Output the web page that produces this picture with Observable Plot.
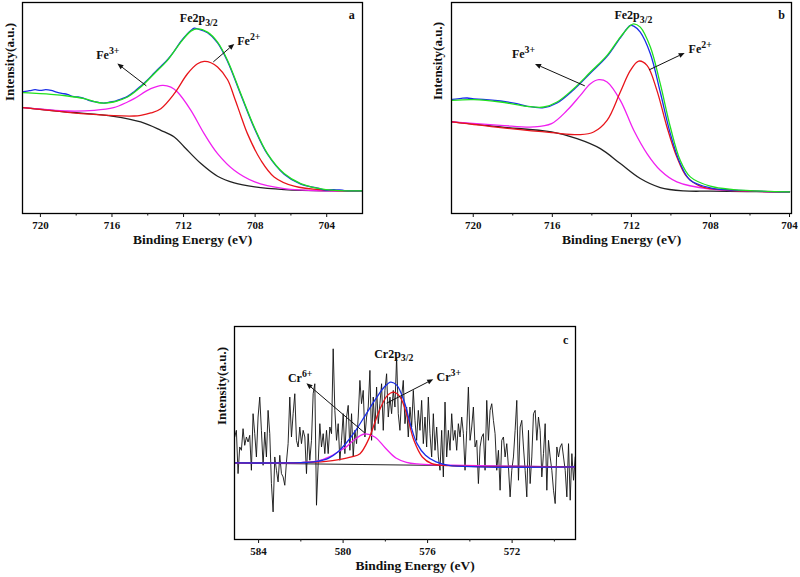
<!DOCTYPE html>
<html><head><meta charset="utf-8">
<script src="https://cdn.jsdelivr.net/npm/d3@7"></script>
<script src="https://cdn.jsdelivr.net/npm/@observablehq/plot@0.6"></script>
<style>
body{margin:0;background:#fff;width:800px;height:577px;overflow:hidden;position:relative}
.panel{position:absolute}
.panel svg, .panel svg text, .panel svg tspan{font-family:"Liberation Serif","Times New Roman",serif !important;}
</style></head><body>
<div id="pa" class="panel" style="left:0;top:0"></div>
<div id="pb" class="panel" style="left:400px;top:0"></div>
<div id="pc" class="panel" style="left:200px;top:290px"></div>
<script>
// ---------- Panel a : Fe2p3/2 ----------
const aBackground = [[720.94,316],[718.48,303],[715.91,290],[714.39,273],[713.27,248],[712.52,228],[711.96,198],[711.03,148],[710.10,110],[709.17,90],[708.02,78],[706.38,70],[704.05,66],[702.0,66]];
const aFe2 = [[720.94,316],[718.48,302],[715.91,292],[714.76,291],[714.39,293],[713.83,300],[713.27,313],[712.52,358],[711.78,418],[711.22,448],[710.85,455],[710.47,451],[710.10,438],[709.54,400],[709.17,348],[708.80,292],[708.43,238],[707.68,158],[706.94,108],[705.82,80],[704.05,68],[702.0,66]];
const aFe3 = [[720.94,316],[718.48,306],[716.99,308],[715.91,316],[715.13,333],[714.76,343],[713.83,373],[713.18,383],[712.71,378],[712.34,363],[711.59,308],[710.85,238],[710.10,178],[709.17,128],[708.02,93],[706.38,73],[704.05,66],[702.0,66]];
const aFit = [[720.94,361],[719.41,356],[718.48,351],[717.55,343],[716.62,330],[715.91,333],[715.13,348],[714.39,378],[713.64,418],[712.90,458],[712.15,513],[711.59,546],[711.22,553],[710.66,543],[710.10,513],[709.54,458],[708.80,358],[708.05,258],[707.31,178],[706.38,118],[705.45,88],[704.05,70],[702.0,66]];
const aRaw = [[720.94,364],[720.6,367],[720.3,370],[720.0,368],[719.7,370],[719.4,368],[719.1,363],[718.8,359],[718.5,356],[718.2,350],[717.9,348],[717.6,345],[717.3,338],[717.0,334],[716.7,331],[716.4,330],[716.1,333],[715.8,336],[715.5,342],[715.13,350],[714.76,364],[714.39,381],[714.0,400],[713.64,420],[713.27,440],[712.90,460],[712.52,486],[712.15,515],[711.78,538],[711.59,548],[711.4,555],[711.22,553],[710.66,541],[710.10,511],[709.54,455],[708.80,355],[708.05,255],[707.31,176],[706.38,116],[705.45,86],[704.5,74],[704.05,68],[703.6,70],[703.0,67],[702.0,66]];

// ---------- Panel b : Fe2p3/2 ----------
const bBackground = [[721.06,275],[718.62,260],[716.04,245],[714.75,225],[713.57,195],[712.56,150],[711.55,105],[710.54,78],[709.36,68],[708.01,67],[704.0,65]];
const bFe3 = [[721.06,275],[718.62,265],[716.94,260],[716.04,270],[715.25,310],[714.58,355],[714.07,390],[713.65,402],[713.23,395],[712.56,340],[711.88,250],[711.21,180],[710.54,130],[709.70,95],[708.01,73],[705.99,67],[704.0,65]];
const bFe2 = [[721.06,275],[718.62,258],[716.04,243],[714.58,237],[713.91,245],[713.23,280],[712.56,365],[712.05,430],[711.63,458],[711.21,445],[710.71,370],[710.20,260],[709.70,170],[709.19,110],[708.52,82],[708.01,75],[706.0,67],[704.0,65]];
const bFit = [[721.06,340],[719.97,342],[718.62,335],[717.27,322],[716.43,320],[715.76,335],[714.92,375],[714.07,425],[713.23,475],[712.56,530],[712.05,565],[711.88,570],[711.55,560],[711.04,500],[710.54,390],[710.03,260],[709.53,160],[709.02,110],[708.01,82],[706.84,72],[704.0,65]];
const bRaw = [[721.06,343],[720.6,346],[720.30,347],[719.97,344],[719.5,343],[718.62,338],[717.8,330],[717.27,322],[716.43,318],[715.76,332],[714.92,372],[714.07,422],[713.23,472],[712.56,528],[712.05,565],[711.88,563],[711.55,545],[711.04,480],[710.54,365],[710.03,240],[709.53,150],[709.02,100],[708.01,77],[706.84,70],[704.0,65]];

// ---------- Panel c : Cr2p3/2 ----------
const cStart = 585.13, cStep = 0.079; // instrument energy grid of the raw spectrum
const cRawIntensity = [
 308,328,198,278,268,333,283,308,293,313,208,378,318,248,368,428,328,223,323,248,
 388,318,168,83,248,208,173,253,198,188,163,233,288,428,308,378,438,298,278,338,
 288,328,308,198,318,238,298,438,468,103,228,348,278,318,258,328,258,338,318,573,
 388,298,348,238,298,378,258,
 368,403,268,378,248,328,288,368,478,408,448,308,368,398,508,298,428,328,458,348,
 408,468,328,448,498,368,428,378,448,398,548,378,328,428,478,348,398,308,398,338,
 448,358,298,388,328,418,288,368,278,428,318,248,378,268,338,248,208,328,188,413,
 248,328,268,378,298,328,268,348,308,
 368,318,208,328,458,298,338,398,278,298,168,278,308,318,208,418,298,388,408,358,
 318,208,268,148,298,308,248,288,218,128,208,248,328,418,178,338,358,278,208,128,
 328,168,248,378,388,298,368,328,188,258,348,148,298,248,208,148,108,278,248,278,
 288,248,208,128,288,118,258,178,248];
const cBaseline = [[585.14,230],[569.0,218]];
const cCr6 = [[585.14,230],[582.0,231],[581.2,236],[580.6,250],[580.2,265],[579.9,276],[579.5,298],[579.0,317],[578.5,308],[578.0,275],[577.5,245],[577.0,232],[576.5,227],[575.5,224],[569.0,218]];
const cCr3 = [[585.14,230],[582.0,231],[580.8,235],[580.2,240],[579.6,248],[579.2,258],[578.8,300],[578.3,385],[577.9,433],[577.6,443],[577.3,428],[576.95,368],[576.65,298],[576.25,248],[575.8,228],[575.0,222],[569.0,218]];
const cFit = [[585.14,230],[582.0,231],[581.3,234],[580.7,244],[580.25,263],[579.85,290],[579.4,328],[578.95,373],[578.45,423],[578.05,458],[577.75,473],[577.45,463],[577.1,413],[576.8,343],[576.5,288],[576.1,253],[575.6,233],[575.0,223],[569.0,218]];

// tick values
const aMajor = [720,716,712,708,704], aMinor = [718,714,710,706];
const bMajor = [720,716,712,708,704], bMinor = [718,714,710,706];
const cMajor = [584,580,576,572], cMinor = [582,578,574,570];

const cRaw = cRawIntensity.map((v,i)=>[cStart - cStep*i, v]);

const COL = {black:"#222", red:"#e8141a", magenta:"#f020f0", blue:"#1a2ee8", green:"#1fe01f", dark:"#111"};
const FONT = "'Liberation Serif','Times New Roman',serif";

function richText(svg){
  const ns = "http://www.w3.org/2000/svg";
  svg.querySelectorAll("text").forEach(t=>{
    if (t.querySelector("tspan")) return;
    const s = t.textContent;
    const m = s.match(/^(.*?)([_^])\{(.*)\}$/);
    if (!m) return;
    t.textContent = "";
    const a = document.createElementNS(ns,"tspan"); a.textContent = m[1]; t.appendChild(a);
    const b = document.createElementNS(ns,"tspan"); b.textContent = m[3];
    b.setAttribute("font-size","0.82em");
    b.setAttribute("dy", m[2]==="_" ? "0.38em" : "-0.5em");
    t.appendChild(b);
  });
}

// arrow with filled head, drawn through the plot's own scales
function arrowMark(arrows){
  return (index, scales) => {
    const ns = "http://www.w3.org/2000/svg";
    const g = document.createElementNS(ns, "g");
    for (const a of arrows) {
      const x1 = scales.x(a.x1), y1 = scales.y(a.y1), x2 = scales.x(a.x2), y2 = scales.y(a.y2);
      const ang = Math.atan2(y2 - y1, x2 - x1), L = 6, W = 2.6;
      const bx = x2 - L*Math.cos(ang), by = y2 - L*Math.sin(ang);
      const ln = document.createElementNS(ns, "line");
      ln.setAttribute("x1", x1); ln.setAttribute("y1", y1); ln.setAttribute("x2", bx); ln.setAttribute("y2", by);
      ln.setAttribute("stroke", "#111"); ln.setAttribute("stroke-width", 1);
      g.appendChild(ln);
      const px = -Math.sin(ang), py = Math.cos(ang);
      const p = document.createElementNS(ns, "path");
      p.setAttribute("d", `M${x2},${y2}L${bx+W*px},${by+W*py}L${bx-W*px},${by-W*py}Z`);
      p.setAttribute("fill", "#111");
      g.appendChild(p);
    }
    return g;
  };
}

function panel(cfg){
  const line = (data, stroke, sw=1.3, curve="catmull-rom") =>
    Plot.line(data, {x: d=>d[0], y: d=>d[1], stroke, strokeWidth: sw, curve, clip: true});
  const marks = [];
  cfg.series.forEach(s => marks.push(line(s.data, s.stroke, s.sw, s.curve)));
  marks.push(Plot.frame({stroke:"#000", strokeWidth:1.3}));
  marks.push(Plot.axisX({ticks: cfg.major, tickSize: 4, tickPadding: 4, tickFormat: d=>String(d), label: null, fontSize: 11, fontWeight: "bold", fontFamily: FONT}));
  marks.push(Plot.axisX({ticks: cfg.minor, tickSize: 2.5, tickFormat: ()=>"", label: null}));
  marks.push(arrowMark(cfg.arrows));
  marks.push(Plot.text(cfg.texts, {x:"x", y:"y", text:"t", fontSize: 12, fontWeight:"bold", fontFamily: FONT, fill:"#111"}));
  marks.push(Plot.text(["Binding Energy (eV)"], {frameAnchor:"bottom", dy: cfg.xLabelDy, dx: cfg.xLabelDx || 0, fontSize: 13.5, fontWeight:"bold", fontFamily: FONT, fill:"#111"}));
  marks.push(Plot.text(["Intensity(a.u.)"], {frameAnchor:"left", dx: cfg.yLabelDx, dy: cfg.yLabelDy, rotate: -90, fontSize: 13, fontWeight:"bold", fontFamily: FONT, fill:"#111"}));
  const svg = Plot.plot({
    width: cfg.width, height: cfg.height,
    marginLeft: cfg.m[0], marginRight: cfg.m[1], marginTop: cfg.m[2], marginBottom: cfg.m[3],
    x: {domain: cfg.xDomain},
    y: {domain: cfg.yDomain, axis: null},
    style: {fontFamily: FONT, fontSize: "11px", fontWeight: "bold", color: "#111", background: "transparent", overflow: "visible"},
    marks
  });
  richText(svg);
  document.getElementById(cfg.el).appendChild(svg);
}

panel({
  el:"pa", width:400, height:250, m:[22,38,2,37],
  xDomain:[721,702], yDomain:[-2,632], major:aMajor, minor:aMinor,
  series:[
    {data:aBackground, stroke:COL.black},
    {data:aFe3, stroke:COL.magenta},
    {data:aFe2, stroke:COL.red},
    {data:aRaw, stroke:COL.blue},
    {data:aFit, stroke:COL.green}
  ],
  texts:[
    {x:711.15, y:584, t:"Fe2p_{3/2}"},
    {x:702.6, y:593, t:"a"},
    {x:716.23, y:474, t:"Fe^{3+}"},
    {x:708.35, y:515, t:"Fe^{2+}"}
  ],
  arrows:[
    {x1:714.05, y1:380, x2:715.67, y2:447},
    {x1:710.31, y1:452, x2:709.14, y2:506}
  ],
  xLabelDy:30, yLabelDx:-13, yLabelDy:-7
});

panel({
  el:"pb", width:400, height:250, m:[51,9,2,37],
  xDomain:[721.1,703.9], yDomain:[0,634], major:bMajor, minor:bMinor,
  series:[
    {data:bBackground, stroke:COL.black},
    {data:bFe3, stroke:COL.magenta},
    {data:bFe2, stroke:COL.red},
    {data:bRaw, stroke:COL.blue},
    {data:bFit, stroke:COL.green}
  ],
  texts:[
    {x:711.9, y:595, t:"Fe2p_{3/2}"},
    {x:704.4, y:595, t:"b"},
    {x:717.46, y:478, t:"Fe^{3+}"},
    {x:708.52, y:493, t:"Fe^{2+}"}
  ],
  arrows:[
    {x1:714.33, y1:382, x2:716.85, y2:448},
    {x1:711.08, y1:430, x2:709.28, y2:481}
  ],
  xLabelDy:30, yLabelDx:-14, yLabelDy:-8
});

panel({
  el:"pc", width:400, height:287, m:[34,25,36,38],
  xDomain:[585.14,569.0], yDomain:[0,640], major:cMajor, minor:cMinor,
  series:[
    {data:cRaw, stroke:COL.dark, sw:0.9, curve:"linear"},
    {data:cBaseline, stroke:COL.black, sw:1.1, curve:"linear"},
    {data:cCr6, stroke:COL.magenta},
    {data:cCr3, stroke:COL.red},
    {data:cFit, stroke:COL.blue}
  ],
  texts:[
    {x:577.6, y:558, t:"Cr2p_{3/2}"},
    {x:569.47, y:598, t:"c"},
    {x:582.03, y:486, t:"Cr^{6+}"},
    {x:575.0, y:489, t:"Cr^{3+}"}
  ],
  arrows:[
    {x1:578.94, y1:318, x2:581.71, y2:468},
    {x1:577.92, y1:408, x2:575.71, y2:480}
  ],
  xLabelDy:30, xLabelDx:10, yLabelDx:-13, yLabelDy:-8
});
</script>
</body></html>
